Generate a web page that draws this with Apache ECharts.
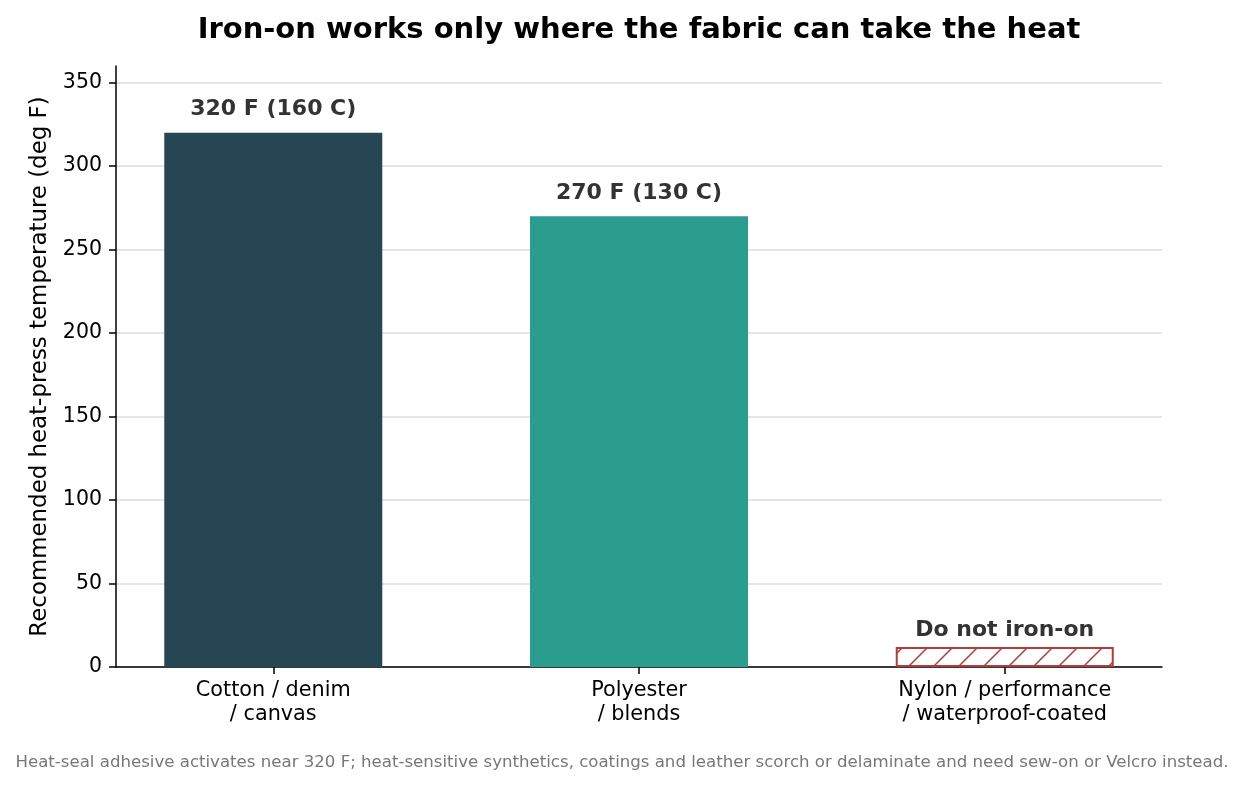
<!DOCTYPE html>
<html>
<head>
<meta charset="utf-8">
<script src="https://cdn.jsdelivr.net/npm/echarts@6/dist/echarts.min.js"></script>
<style>
html,body{margin:0;padding:0;background:#fff;}
#chart{width:1244px;height:787px;}
</style>
</head>
<body>
<div id="chart"></div>
<script>
const categories = ["Cotton / denim\n/ canvas", "Polyester\n/ blends", "Nylon / performance\n/ waterproof-coated"];
const values = [320, 270, 12];
const barLabels = ["320 F (160 C)", "270 F (130 C)", "Do not iron-on"];
const yTicks = [0, 50, 100, 150, 200, 250, 300, 350];
const xPositions = [0, 1, 2];

const FONT = "DejaVu Sans";

// hatch pattern for the "do not" bar
const hatch = document.createElement('canvas');
hatch.width = 25; hatch.height = 25;
const hc = hatch.getContext('2d');
hc.fillStyle = '#ffffff';
hc.fillRect(0, 0, 25, 25);
hc.strokeStyle = '#b23b3b';
hc.lineWidth = 1.5;
hc.beginPath();
hc.moveTo(-2, 27); hc.lineTo(27, -2);
hc.moveTo(-2, 2); hc.lineTo(2, -2);
hc.moveTo(23, 27); hc.lineTo(27, 23);
hc.stroke();

const barColors = ['#264653', '#2a9d8f', {image: hatch, repeat: 'repeat'}];
const labelDist = [12, 12, 6];

const chart = echarts.init(document.getElementById('chart'), null, {renderer: 'canvas'});
chart.setOption({
  animation: false,
  backgroundColor: '#ffffff',
  graphic: [{
    type: 'text',
    x: 639,
    y: 30,
    style: {
      text: 'Iron-on works only where the fabric can take the heat',
      fontFamily: FONT, fontSize: 29, fontWeight: 'bold', fill: '#000',
      align: 'center', verticalAlign: 'middle'
    }
  }, {
    type: 'text',
    left: 'center',
    top: 754,
    style: {
      text: 'Heat-seal adhesive activates near 320 F; heat-sensitive synthetics, coatings and leather scorch or delaminate and need sew-on or Velcro instead.',
      fontFamily: FONT, fontSize: 16.6, fill: '#777777'
    }
  }],
  grid: {left: 116, right: 82, top: 66, bottom: 120, containLabel: false},
  xAxis: {
    type: 'value',
    min: -0.43,
    max: 2.43,
    splitLine: {show: false},
    axisLine: {show: true, onZero: false, lineStyle: {color: '#000', width: 1.5}},
    axisTick: {show: true, customValues: xPositions, length: 7, lineStyle: {color: '#000', width: 1.5}},
    axisLabel: {
      customValues: xPositions,
      formatter: v => categories[Math.round(v)],
      fontFamily: FONT, fontSize: 20.8, color: '#000', lineHeight: 24, margin: 12
    }
  },
  yAxis: {
    type: 'value',
    min: 0,
    max: 360,
    name: 'Recommended heat-press temperature (deg F)',
    nameLocation: 'middle',
    nameGap: 64,
    nameTextStyle: {fontFamily: FONT, fontSize: 22.9, color: '#000'},
    axisLine: {show: true, onZero: false, lineStyle: {color: '#000', width: 1.5}},
    axisTick: {show: true, customValues: yTicks, length: 7, lineStyle: {color: '#000', width: 1.5}},
    axisLabel: {customValues: yTicks, fontFamily: FONT, fontSize: 20.5, color: '#000', margin: 14},
    splitLine: {show: true, lineStyle: {color: '#dddddd', width: 1.5}}
  },
  series: [{
    type: 'bar',
    barWidth: 218,
    data: values.map((v, i) => ({
      value: [xPositions[i], v],
      itemStyle: i === 2
        ? {color: barColors[i], borderColor: '#b23b3b', borderWidth: 2}
        : {color: barColors[i]},
      label: {
        show: true,
        position: 'top',
        distance: labelDist[i],
        formatter: barLabels[i],
        fontFamily: FONT, fontSize: 22, fontWeight: 'bold', color: '#333333'
      }
    }))
  }]
});
</script>
</body>
</html>
